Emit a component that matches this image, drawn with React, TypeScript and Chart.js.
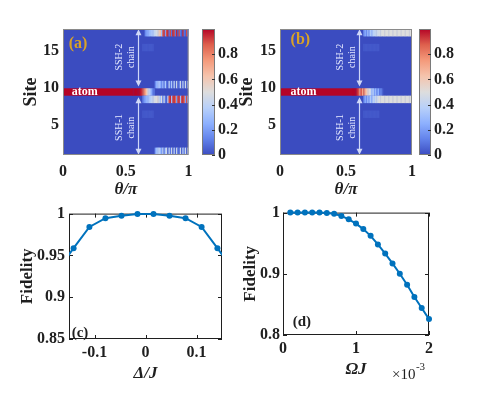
import React, { useEffect, useRef } from 'react';
import { Chart, registerables } from 'chart.js';

Chart.register(...registerables);

const SERIF = '"Liberation Serif", "Times New Roman", Times, serif';
const INK = '#1f1f1f';
const LINE_BLUE = '#0072BD';
const GOLD = '#D9A227';

// ---------------- data: heatmaps ----------------
const thetaTicks = [0, 0.5, 1];
const siteTicks = [5, 10, 15];
const colorTicks = [0, 0.2, 0.4, 0.6, 0.8];
const thetaMin = 0;
const thetaMax = 1;
const siteMin = 1;
const siteMax = 18;
const thetaStart = 0.55; // first detailed column
const thetaStep = 0.01;

// panel (a): occupation per site, columns theta = 0.55 ... 0.99
const aRow17 = [0, 0, 0, 0, 0, 0, 0, 0, 0, 0, 0.15, 0.2, 0.25, 0.28, 0.3, 0.33, 0.36, 0.4, 0.43, 0.47, 0.5, 0.58, 0.65, 0.3, 0.85, 0.95, 0.2, 0.9, 0.95, 0.1, 0.9, 0.1, 0.95, 0.9, 0.1, 0.95, 0.05, 0.9, 0.1, 0.05, 0.95, 0.1, 0.05, 0.9, 0.1];
const aRow15 = [0, 0, 0, 0, 0, 0, 0, 0, 0.03, 0.03, 0.03, 0.03, 0.03, 0.03, 0.03, 0.03, 0.03, 0, 0, 0, 0, 0, 0, 0, 0, 0, 0, 0, 0, 0, 0, 0, 0, 0, 0, 0, 0, 0, 0, 0, 0, 0, 0, 0, 0];
const aRow10 = [0, 0, 0, 0, 0, 0, 0, 0, 0, 0, 0, 0, 0, 0, 0, 0, 0, 0, 0.15, 0.25, 0.3, 0.35, 0.25, 0.15, 0.3, 0.1, 0.35, 0.1, 0.05, 0.4, 0.1, 0.35, 0.05, 0.4, 0.05, 0.45, 0.05, 0.1, 0.45, 0.05, 0.4, 0.05, 0.45, 0.05, 0.4];
const aAtom = [1, 1, 1, 1, 1, 1, 0.98, 0.95, 0.9, 0.82, 0.72, 0.62, 0.52, 0.42, 0.32, 0.24, 0.15, 0.08, 0, 0, 0, 0, 0, 0, 0, 0, 0, 0, 0, 0, 0, 0, 0, 0, 0, 0, 0, 0, 0, 0, 0, 0, 0, 0, 0];
const aRow8 = [0, 0, 0, 0, 0, 0, 0, 0, 0.1, 0.18, 0.22, 0.26, 0.3, 0.33, 0.36, 0.4, 0.43, 0.46, 0.48, 0.5, 0.52, 0.45, 0.3, 0.5, 0.15, 0.45, 0.1, 0.05, 0.4, 0.9, 0.95, 0.3, 0.9, 0.95, 0.85, 0.2, 0.9, 0.95, 0.3, 0.9, 0.95, 0.85, 0.2, 0.9, 0.3];
const aRow6 = [0, 0, 0, 0, 0, 0, 0, 0, 0.03, 0.03, 0.03, 0.03, 0.03, 0.03, 0.03, 0.03, 0.03, 0, 0, 0, 0, 0, 0, 0, 0, 0, 0, 0, 0, 0, 0, 0, 0, 0, 0, 0, 0, 0, 0, 0, 0, 0, 0, 0, 0];
const aRow1 = [0, 0, 0, 0, 0, 0, 0, 0, 0, 0, 0, 0, 0, 0, 0, 0, 0, 0, 0.2, 0.3, 0.35, 0.4, 0.3, 0.2, 0.4, 0.1, 0.35, 0.45, 0.05, 0.4, 0.1, 0.45, 0.05, 0.4, 0.05, 0.45, 0.1, 0.05, 0.45, 0.05, 0.4, 0.1, 0.45, 0.05, 0.45];

// panel (b)
const bRow17 = [0, 0, 0, 0, 0, 0, 0, 0, 0.15, 0.25, 0.15, 0.3, 0.2, 0.35, 0.3, 0.38, 0.4, 0.42, 0.44, 0.46, 0.47, 0.48, 0.5, 0.5, 0.5, 0.5, 0.5, 0.5, 0.5, 0.5, 0.5, 0.5, 0.5, 0.5, 0.5, 0.5, 0.5, 0.5, 0.5, 0.5, 0.5, 0.5, 0.5, 0.5, 0.5];
const bRow15 = [0, 0, 0, 0, 0, 0, 0, 0, 0.03, 0.03, 0.03, 0.03, 0.03, 0.03, 0.03, 0.03, 0.03, 0.03, 0.03, 0.03, 0, 0, 0, 0, 0, 0, 0, 0, 0, 0, 0, 0, 0, 0, 0, 0, 0, 0, 0, 0, 0, 0, 0, 0, 0];
const bAtom = [1, 1, 1, 0.95, 0.9, 0.75, 0.9, 0.72, 0.85, 0.7, 0.62, 0.55, 0.5, 0.45, 0.3, 0.38, 0.2, 0.3, 0.15, 0.25, 0.1, 0.15, 0.05, 0, 0, 0, 0, 0, 0, 0, 0, 0, 0, 0, 0, 0, 0, 0, 0, 0, 0, 0, 0, 0, 0];
const bRow8 = [0, 0, 0, 0, 0, 0, 0, 0, 0.12, 0.25, 0.15, 0.3, 0.2, 0.35, 0.25, 0.4, 0.35, 0.45, 0.42, 0.48, 0.5, 0.5, 0.5, 0.5, 0.5, 0.5, 0.5, 0.5, 0.5, 0.5, 0.5, 0.5, 0.5, 0.5, 0.5, 0.5, 0.5, 0.5, 0.5, 0.5, 0.5, 0.5, 0.5, 0.5, 0.5];
const bRow6 = [0, 0, 0, 0, 0, 0, 0, 0, 0.03, 0.03, 0.03, 0.03, 0.03, 0.03, 0.03, 0.03, 0.03, 0.03, 0.03, 0.03, 0, 0, 0, 0, 0, 0, 0, 0, 0, 0, 0, 0, 0, 0, 0, 0, 0, 0, 0, 0, 0, 0, 0, 0, 0];

// ---------------- data: fidelity curves ----------------
const deltaOverJ = [-0.173, -0.141, -0.11, -0.0785, -0.047, -0.0157, 0.0157, 0.047, 0.0785, 0.11, 0.141, 0.173];
const fidelityDelta = [0.932, 0.9586, 0.984, 0.9945, 0.9974, 0.9996, 0.9996, 0.9974, 0.9945, 0.984, 0.9586, 0.932];
const deltaTicks = [-0.1, 0, 0.1];
const fidelityTicksC = [0.85, 0.9, 0.95, 1];

const omegaJ = [0.1, 0.2, 0.3, 0.4, 0.5, 0.6, 0.7, 0.8, 0.9, 1.0, 1.1, 1.2, 1.3, 1.4, 1.5, 1.6, 1.7, 1.8, 1.9, 2.0];
const fidelityOmega = [1.0, 1.0, 1.0, 1.0, 1.0, 0.9995, 0.998, 0.9945, 0.989, 0.982, 0.973, 0.962, 0.948, 0.933, 0.917, 0.9, 0.882, 0.862, 0.844, 0.826];
const omegaTicks = [0, 1, 2];
const fidelityTicksD = [0.8, 0.9, 1];

// ---------------- styling helpers ----------------
const cmapStops: number[][] = [
  [0, 59, 76, 192],
  [0.125, 98, 130, 234],
  [0.25, 141, 176, 254],
  [0.375, 184, 208, 249],
  [0.5, 221, 221, 221],
  [0.625, 245, 196, 173],
  [0.75, 244, 154, 123],
  [0.875, 222, 96, 77],
  [1, 180, 4, 38],
];

function coolwarm(v: number): string {
  const t = Math.max(0, Math.min(1, v));
  for (let i = 1; i < cmapStops.length; i++) {
    const a = cmapStops[i - 1];
    const b = cmapStops[i];
    if (t <= b[0]) {
      const f = (t - a[0]) / (b[0] - a[0]);
      const r = Math.round(a[1] + (b[1] - a[1]) * f);
      const g = Math.round(a[2] + (b[2] - a[2]) * f);
      const bl = Math.round(a[3] + (b[3] - a[3]) * f);
      return `rgb(${r},${g},${bl})`;
    }
  }
  return 'rgb(180,4,38)';
}

const fmt = (v: number) => String(Math.round(v * 1000) / 1000);
const tickFont = { family: SERIF, size: 16, weight: 'bold' as const };
const fixTicks = (arr: number[]) => (s: any) => {
  s.ticks = arr.map((v) => ({ value: v }));
};

type HeatRow = { site: number; lead: number; values: number[] };

const rowsA: HeatRow[] = [
  { site: 17, lead: 0, values: aRow17 },
  { site: 15, lead: 0, values: aRow15 },
  { site: 10, lead: 0, values: aRow10 },
  { site: 9, lead: 1, values: aAtom },
  { site: 8, lead: 0, values: aRow8 },
  { site: 6, lead: 0, values: aRow6 },
  { site: 1, lead: 0, values: aRow1 },
];
const rowsB: HeatRow[] = [
  { site: 17, lead: 0, values: bRow17 },
  { site: 15, lead: 0, values: bRow15 },
  { site: 9, lead: 1, values: bAtom },
  { site: 8, lead: 0, values: bRow8 },
  { site: 6, lead: 0, values: bRow6 },
];

// annotation anchors (data coordinates)
const arrowTheta = 0.6;
const ssh2Span = [17.95, 10.25];
const ssh1Span = [8.8, 1.05];

function makeHeatmapPlugin(rows: HeatRow[], letter: string, letterPos: number[], atomPos: number[]) {
  return {
    id: 'heatmap',
    beforeDatasetsDraw(chart: any) {
      const { ctx, chartArea: ca } = chart;
      const xs = chart.scales.x;
      const ys = chart.scales.y;
      ctx.save();
      ctx.beginPath();
      ctx.rect(ca.left, ca.top, ca.right - ca.left, ca.bottom - ca.top);
      ctx.clip();
      ctx.fillStyle = coolwarm(0);
      ctx.fillRect(ca.left, ca.top, ca.right - ca.left, ca.bottom - ca.top);
      for (const row of rows) {
        const yT = ys.getPixelForValue(row.site + 1);
        const yB = ys.getPixelForValue(row.site);
        if (row.lead > 0) {
          const x0 = xs.getPixelForValue(thetaMin);
          const x1 = xs.getPixelForValue(thetaStart);
          ctx.fillStyle = coolwarm(row.lead);
          ctx.fillRect(x0, yT, x1 - x0 + 0.5, yB - yT);
        }
        row.values.forEach((v, i) => {
          if (v <= 0) return;
          const t0 = thetaStart + i * thetaStep;
          const x0 = xs.getPixelForValue(t0);
          const x1 = xs.getPixelForValue(Math.min(thetaMax, t0 + thetaStep));
          ctx.fillStyle = coolwarm(v);
          ctx.fillRect(x0, yT, x1 - x0 + 0.35, yB - yT);
        });
      }

      // arrows
      const arrowColor = 'rgba(214,222,250,0.95)';
      const drawArrow = (xv: number, ya: number, yb: number) => {
        const px = Math.round(xs.getPixelForValue(xv)) + 0.5;
        const p1 = ys.getPixelForValue(ya);
        const p2 = ys.getPixelForValue(yb);
        const top = Math.min(p1, p2);
        const bot = Math.max(p1, p2);
        ctx.strokeStyle = arrowColor;
        ctx.fillStyle = arrowColor;
        ctx.lineWidth = 1.2;
        ctx.beginPath();
        ctx.moveTo(px, top + 4);
        ctx.lineTo(px, bot - 4);
        ctx.stroke();
        ctx.beginPath();
        ctx.moveTo(px, top);
        ctx.lineTo(px - 3, top + 6);
        ctx.lineTo(px + 3, top + 6);
        ctx.closePath();
        ctx.fill();
        ctx.beginPath();
        ctx.moveTo(px, bot);
        ctx.lineTo(px - 3, bot - 6);
        ctx.lineTo(px + 3, bot - 6);
        ctx.closePath();
        ctx.fill();
      };
      drawArrow(arrowTheta, ssh2Span[0], ssh2Span[1]);
      drawArrow(arrowTheta, ssh1Span[0], ssh1Span[1]);

      // chain labels (rotated)
      const chainLabel = (l1: string, yv: number) => {
        const cx = xs.getPixelForValue(0.5);
        const cy = ys.getPixelForValue(yv);
        ctx.save();
        ctx.translate(cx, cy);
        ctx.rotate(-Math.PI / 2);
        ctx.fillStyle = '#e6eaff';
        ctx.font = `10px ${SERIF}`;
        ctx.textAlign = 'center';
        ctx.textBaseline = 'middle';
        ctx.fillText(l1, 0, -6);
        ctx.fillText('chain', 0, 6);
        ctx.restore();
      };
      chainLabel('SSH-2', 14.2);
      chainLabel('SSH-1', 4.7);

      // atom label
      ctx.fillStyle = '#ffffff';
      ctx.font = `bold 12px ${SERIF}`;
      ctx.textAlign = 'left';
      ctx.textBaseline = 'middle';
      ctx.fillText('atom', xs.getPixelForValue(atomPos[0]), ys.getPixelForValue(atomPos[1]));

      // panel letter
      ctx.fillStyle = GOLD;
      ctx.font = `bold 16px ${SERIF}`;
      ctx.fillText(letter, xs.getPixelForValue(letterPos[0]), ys.getPixelForValue(letterPos[1]));
      ctx.restore();

      ctx.save();
      ctx.strokeStyle = '#8a8a8a';
      ctx.lineWidth = 1;
      ctx.strokeRect(ca.left + 0.5, ca.top + 0.5, ca.right - ca.left - 1, ca.bottom - ca.top - 1);
      ctx.restore();
    },
  };
}

function heatConfig(o: {
  padRight: number;
  yWidth: number;
  siteTitlePad: number;
  rows: HeatRow[];
  letter: string;
  letterPos: number[];
  atomPos: number[];
}) {
  return {
    type: 'scatter',
    data: { datasets: [] },
    options: {
      responsive: false,
      animation: false,
      devicePixelRatio: 1,
      layout: { padding: { left: 0, top: 29, right: o.padRight, bottom: 0 } },
      plugins: { legend: { display: false }, tooltip: { enabled: false } },
      scales: {
        x: {
          type: 'linear',
          min: thetaMin,
          max: thetaMax,
          grid: { display: false, drawTicks: false },
          border: { display: false },
          afterBuildTicks: fixTicks(thetaTicks),
          afterFit: (s: any) => {
            s.height = 45;
          },
          ticks: { font: tickFont, color: INK, padding: 7.4, maxRotation: 0, autoSkip: false, callback: (v: number) => fmt(v) },
          title: {
            display: true,
            text: 'θ/π',
            color: INK,
            font: { family: SERIF, size: 17, style: 'italic', weight: 'bold' },
            padding: { top: 0, bottom: 0.4 },
          },
        },
        y: {
          type: 'linear',
          min: siteMin,
          max: siteMax,
          grid: { display: false, drawTicks: false },
          border: { display: false },
          afterBuildTicks: fixTicks(siteTicks),
          afterFit: (s: any) => {
            s.width = o.yWidth;
          },
          ticks: { font: tickFont, color: INK, padding: 4, autoSkip: false, callback: (v: number) => fmt(v) },
          title: {
            display: true,
            text: 'Site',
            color: INK,
            font: { family: SERIF, size: 18, weight: 'bold' },
            padding: { top: o.siteTitlePad, bottom: 0 },
          },
        },
      },
    },
    plugins: [makeHeatmapPlugin(o.rows, o.letter, o.letterPos, o.atomPos)],
  };
}

const colorbarPlugin = {
  id: 'colorbar',
  beforeDatasetsDraw(chart: any) {
    const { ctx, chartArea: ca } = chart;
    const ys = chart.scales.y;
    const y0 = ys.getPixelForValue(0);
    const y1 = ys.getPixelForValue(1);
    const g = ctx.createLinearGradient(0, y0, 0, y1);
    cmapStops.forEach((s) => g.addColorStop(s[0], `rgb(${s[1]},${s[2]},${s[3]})`));
    ctx.save();
    ctx.fillStyle = g;
    ctx.fillRect(ca.left, y1, ca.right - ca.left, y0 - y1);
    ctx.strokeStyle = '#7a7a7a';
    ctx.lineWidth = 1;
    ctx.strokeRect(ca.left + 0.5, ca.top + 0.5, ca.right - ca.left - 1, ca.bottom - ca.top - 1);
    ctx.strokeStyle = '#333';
    ctx.beginPath();
    ys.ticks.forEach((t: any) => {
      const p = Math.round(ys.getPixelForValue(t.value)) + 0.5;
      ctx.moveTo(ca.right, p);
      ctx.lineTo(ca.right - 3, p);
    });
    ctx.stroke();
    ctx.restore();
  },
};

function colorbarConfig(yWidth: number) {
  return {
    type: 'scatter',
    data: { datasets: [] },
    options: {
      responsive: false,
      animation: false,
      devicePixelRatio: 1,
      layout: { padding: { left: 7, top: 29, right: 0, bottom: 45 } },
      plugins: { legend: { display: false }, tooltip: { enabled: false } },
      scales: {
        x: { type: 'linear', display: false, min: 0, max: 1 },
        y: {
          type: 'linear',
          position: 'right',
          min: 0,
          max: 1,
          grid: { display: false, drawTicks: false },
          border: { display: false },
          afterBuildTicks: fixTicks(colorTicks),
          afterFit: (s: any) => {
            s.width = yWidth;
          },
          ticks: { font: tickFont, color: INK, padding: 3, autoSkip: false, callback: (v: number) => fmt(v) },
        },
      },
    },
    plugins: [colorbarPlugin],
  };
}

function makeBoxPlugin(letter: string, letterPos: number[], exponent: boolean) {
  return {
    id: 'matlabBox',
    beforeDatasetsDraw(chart: any) {
      const { ctx, chartArea: ca } = chart;
      const xs = chart.scales.x;
      const ys = chart.scales.y;
      ctx.save();
      ctx.strokeStyle = INK;
      ctx.lineWidth = 1;
      ctx.strokeRect(ca.left + 0.5, ca.top + 0.5, ca.right - ca.left - 1, ca.bottom - ca.top - 1);
      const tl = 4;
      ctx.beginPath();
      xs.ticks.forEach((t: any) => {
        const p = Math.round(xs.getPixelForValue(t.value)) + 0.5;
        ctx.moveTo(p, ca.bottom);
        ctx.lineTo(p, ca.bottom - tl);
        ctx.moveTo(p, ca.top);
        ctx.lineTo(p, ca.top + tl);
      });
      ys.ticks.forEach((t: any) => {
        const p = Math.round(ys.getPixelForValue(t.value)) + 0.5;
        ctx.moveTo(ca.left, p);
        ctx.lineTo(ca.left + tl, p);
        ctx.moveTo(ca.right, p);
        ctx.lineTo(ca.right - tl, p);
      });
      ctx.stroke();

      ctx.fillStyle = INK;
      ctx.font = `bold 15px ${SERIF}`;
      ctx.textAlign = 'left';
      ctx.textBaseline = 'middle';
      ctx.fillText(letter, xs.getPixelForValue(letterPos[0]), ys.getPixelForValue(letterPos[1]));

      if (exponent) {
        ctx.font = `15px ${SERIF}`;
        const x0 = ca.right - 37;
        ctx.fillText('×10', x0, ca.bottom + 40);
        const w = ctx.measureText('×10').width;
        ctx.font = `11px ${SERIF}`;
        ctx.fillText('-3', x0 + w + 0.5, ca.bottom + 32);
      }
      ctx.restore();
    },
  };
}

function lineConfig(o: {
  xs: number[];
  ys: number[];
  xMin: number;
  xMax: number;
  yMin: number;
  yMax: number;
  xTicks: number[];
  yTicks: number[];
  padTop: number;
  padRight: number;
  yWidth: number;
  xHeight: number;
  xTitle: string;
  xTitlePad: number;
  yTitlePad: number;
  yTickPad: number;
  clip: any;
  letter: string;
  letterPos: number[];
  exponent: boolean;
}) {
  return {
    type: 'line',
    data: {
      datasets: [
        {
          data: o.xs.map((x, i) => ({ x, y: o.ys[i] })),
          borderColor: LINE_BLUE,
          backgroundColor: LINE_BLUE,
          borderWidth: 2,
          pointRadius: 3,
          pointBorderWidth: 0,
          pointBackgroundColor: LINE_BLUE,
          tension: 0,
          clip: o.clip,
        },
      ],
    },
    options: {
      responsive: false,
      animation: false,
      devicePixelRatio: 1,
      layout: { padding: { left: 0, top: o.padTop, right: o.padRight, bottom: 0 } },
      plugins: { legend: { display: false }, tooltip: { enabled: false } },
      scales: {
        x: {
          type: 'linear',
          min: o.xMin,
          max: o.xMax,
          grid: { display: false, drawTicks: false },
          border: { display: false },
          afterBuildTicks: fixTicks(o.xTicks),
          afterFit: (s: any) => {
            s.height = o.xHeight;
          },
          ticks: { font: tickFont, color: INK, padding: 4.4, maxRotation: 0, autoSkip: false, callback: (v: number) => fmt(v) },
          title: {
            display: true,
            text: o.xTitle,
            color: INK,
            font: { family: SERIF, size: 17, style: 'italic', weight: 'bold' },
            padding: { top: 0, bottom: o.xTitlePad },
          },
        },
        y: {
          type: 'linear',
          min: o.yMin,
          max: o.yMax,
          grid: { display: false, drawTicks: false },
          border: { display: false },
          afterBuildTicks: fixTicks(o.yTicks),
          afterFit: (s: any) => {
            s.width = o.yWidth;
          },
          ticks: { font: tickFont, color: INK, padding: o.yTickPad, autoSkip: false, callback: (v: number) => fmt(v) },
          title: {
            display: true,
            text: 'Fidelity',
            color: INK,
            font: { family: SERIF, size: 17, weight: 'bold' },
            padding: { top: o.yTitlePad, bottom: 0 },
          },
        },
      },
    },
    plugins: [makeBoxPlugin(o.letter, o.letterPos, o.exponent)],
  };
}

function ChartBox(props: { left: number; top: number; width: number; height: number; make: () => any }) {
  const ref = useRef<HTMLCanvasElement>(null);
  useEffect(() => {
    const chart = new Chart(ref.current as HTMLCanvasElement, props.make());
    return () => chart.destroy();
  }, []);
  return (
    <canvas
      ref={ref}
      width={props.width}
      height={props.height}
      style={{ position: 'absolute', left: props.left, top: props.top, width: props.width, height: props.height }}
    />
  );
}

export default function App() {
  return (
    <div style={{ position: 'fixed', left: 0, top: 0, width: 491, height: 394, background: '#ffffff', overflow: 'hidden' }}>
      <ChartBox
        left={0}
        top={0}
        width={200}
        height={200}
        make={() =>
          heatConfig({ padRight: 5, yWidth: 63, siteTitlePad: 21, rows: rowsA, letter: '(a)', letterPos: [0.045, 16], atomPos: [0.07, 9.5] })
        }
      />
      <ChartBox left={195} top={0} width={50} height={200} make={() => colorbarConfig(30)} />
      <ChartBox
        left={235}
        top={0}
        width={190}
        height={200}
        make={() =>
          heatConfig({ padRight: 13, yWidth: 45, siteTitlePad: 1.2, rows: rowsB, letter: '(b)', letterPos: [0.08, 16.5], atomPos: [0.08, 9.5] })
        }
      />
      <ChartBox left={412} top={0} width={60} height={200} make={() => colorbarConfig(41)} />
      <ChartBox
        left={0}
        top={200}
        width={240}
        height={194}
        make={() =>
          lineConfig({
            xs: deltaOverJ,
            ys: fidelityDelta,
            xMin: -0.15,
            xMax: 0.15,
            yMin: 0.85,
            yMax: 1,
            xTicks: deltaTicks,
            yTicks: fidelityTicksC,
            padTop: 12,
            padRight: 18,
            yWidth: 69,
            xHeight: 55,
            xTitle: 'Δ/J',
            xTitlePad: 9.8,
            yTitlePad: 17.8,
            yTickPad: 4,
            clip: { left: 0, right: 0, top: 6, bottom: 6 },
            letter: '(c)',
            letterPos: [-0.1447, 0.8567],
            exponent: false,
          })
        }
      />
      <ChartBox
        left={240}
        top={200}
        width={251}
        height={194}
        make={() =>
          lineConfig({
            xs: omegaJ,
            ys: fidelityOmega,
            xMin: 0,
            xMax: 2,
            yMin: 0.8,
            yMax: 1,
            xTicks: omegaTicks,
            yTicks: fidelityTicksD,
            padTop: 11,
            padRight: 62,
            yWidth: 43,
            xHeight: 59,
            xTitle: 'ΩJ',
            xTitlePad: 13.8,
            yTitlePad: 0,
            yTickPad: 3,
            clip: { left: 6, right: 6, top: 6, bottom: 6 },
            letter: '(d)',
            letterPos: [0.133, 0.8215],
            exponent: true,
          })
        }
      />
    </div>
  );
}
